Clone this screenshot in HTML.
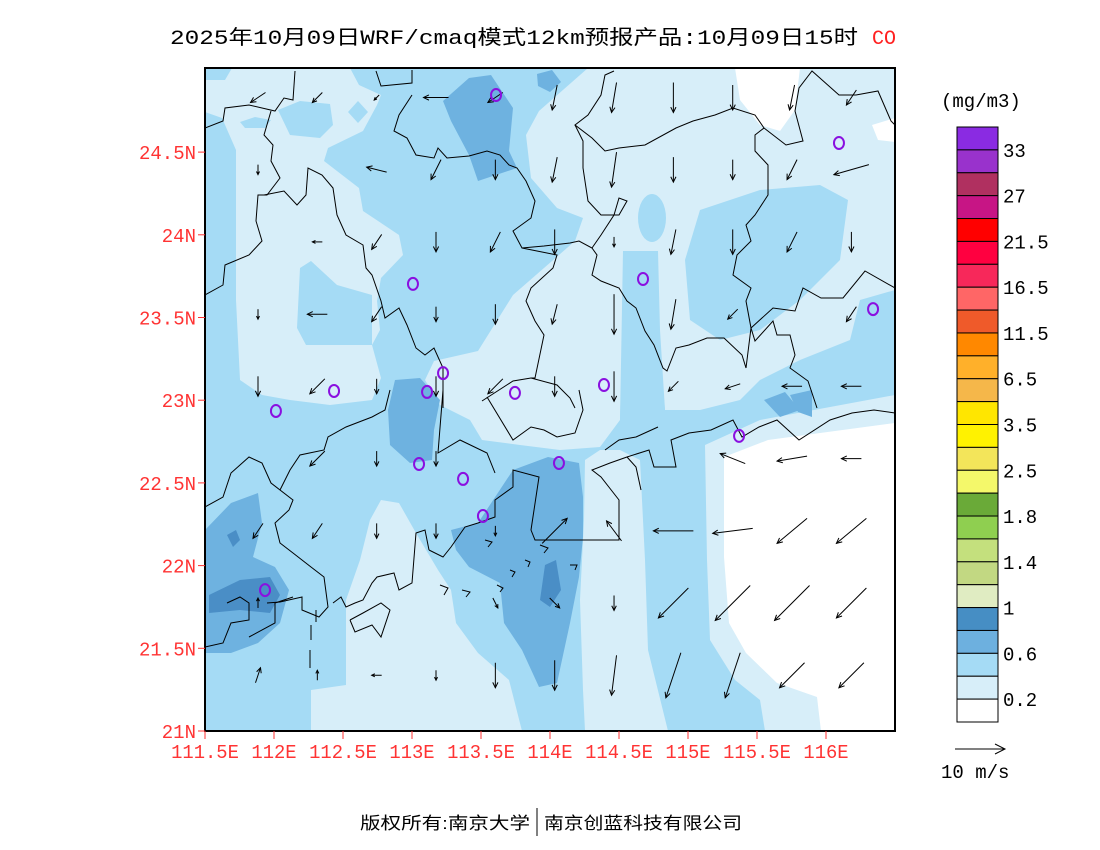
<!DOCTYPE html>
<html><head><meta charset="utf-8"><style>
html,body{margin:0;padding:0;background:#fff;}
svg{display:block;}
.mono{font-family:"Liberation Mono","Noto Sans CJK SC",monospace;}
</style></head><body>
<svg id="chart" width="1100" height="850" viewBox="0 0 1100 850" xmlns="http://www.w3.org/2000/svg">
<rect x="0" y="0" width="1100" height="850" fill="#fff"/>
<text x="170" y="44" font-size="20" textLength="688" lengthAdjust="spacingAndGlyphs" font-family="Liberation Mono, Noto Sans CJK SC, monospace" fill="#000">2025年10月09日WRF/cmaq模式12km预报产品:10月09日15时</text>
<text x="872" y="44" font-size="20" font-family="Liberation Mono, monospace" fill="#ff2020">CO</text>

<defs><clipPath id="mapclip"><rect x="205" y="68" width="690" height="663"/></clipPath></defs>
<g id="map" clip-path="url(#mapclip)">
  <rect x="205" y="68" width="690" height="663" fill="#a5dbf5"/>
  <g fill="#d7eef9">
    <polygon points="232,68 350,68 359,85 381,95 377,105 363,131 328,148 324,161 359,188 363,211 399,235 403,255 381,278 377,301 380,330 372,345 381,378 372,400 330,405 290,400 262,395 240,380 236,300 236,150 222,118 205,112 205,80 225,80"/>
    <polygon points="588,68 895,68 895,290 860,300 850,340 800,360 760,380 740,400 700,410 665,410 658,330 623,320 620,420 600,447 560,450 520,445 482,440 470,420 440,405 425,380 434,361 478,351 513,295 544,268 575,241 583,218 557,208 531,178 526,135 539,111"/>
    <polygon points="381,500 399,503 416,533 438,570 451,590 456,623 478,653 509,680 522,731 311,731 311,690 346,685 346,600 360,560 370,520"/>
    <polygon points="585,460 600,450 620,450 640,460 645,560 648,650 668,731 585,731 583,690 580,600 584,520"/>
    <polygon points="705,445 760,420 895,395 895,731 765,731 760,700 735,680 710,640 707,560"/>
  </g>
  <g fill="#a5dbf5">
    <polygon points="278,110 300,101 330,104 333,125 320,138 290,135"/>
    <polygon points="348,112 358,101 368,112 358,123"/>
    <polygon points="240,122 255,117 271,120 265,128 245,128"/>
    <polygon points="311,261 337,285 372,295 372,345 337,345 306,345 297,328 300,268"/>
    <ellipse cx="652" cy="218" rx="14" ry="24"/>
    <polygon points="700,210 760,190 820,185 848,200 840,260 800,300 760,330 720,340 690,320 685,260"/>
    <polygon points="623,251 658,251 660,330 665,410 640,420 620,420"/>
  </g>
  <g fill="#6eb2e0">
    <polygon points="443,101 469,78 491,75 513,108 509,151 517,168 478,181 469,155 451,121"/>
    <polygon points="537,74 552,70 561,82 550,92 538,86"/>
    <polygon points="395,380 420,378 440,400 434,430 432,460 410,463 390,445 388,410"/>
    <polygon points="451,530 478,523 513,470 548,457 579,463 583,497 583,537 579,577 570,623 557,683 539,687 522,650 504,623 500,583 469,567 456,550"/>
    <polygon points="205,530 231,503 258,493 262,523 253,557 275,567 289,590 280,623 258,643 231,653 205,653"/>
    <polygon points="764,400 785,392 800,410 780,417"/>
    <polygon points="790,395 812,390 812,417 798,412"/>
  </g>
  <g fill="#4a8ec6">
    <polygon points="209,595 240,580 270,577 280,595 270,613 240,610 209,613"/>
    <polygon points="227,535 236,530 240,540 233,547"/>
    <polygon points="545,565 556,560 561,590 550,607 540,600"/>
  </g>
  <g fill="#fff">
    <polygon points="724,457 768,440 895,423 895,731 821,731 817,697 777,683 746,653 729,623 724,557"/>
    <polygon points="735,68 800,68 795,110 780,131 760,125 740,100"/>
    <polygon points="872,125 895,118 895,142 878,140"/>
  </g>
  <g fill="none" stroke="#000" stroke-width="1">
    <polyline points="205,128 223,121 225,108 249,105 275,111 284,98 293,100 295,71"/>
    <polyline points="271,111 264,135 273,145 271,161 280,178 267,195 258,195 256,221 262,241 249,255 225,265 223,285 205,295"/>
    <polyline points="264,195 284,191 297,205 306,195 308,168 322,175 333,188 337,215 346,235 363,245 366,268 372,275 381,301 385,318 399,308 407,325 416,348 425,355 434,348 443,368 443,408"/>
    <polyline points="376,71 381,86 412,83 412,70"/>
    <polyline points="412,95 399,115 394,131 407,138 416,155 434,158 438,148 447,158 469,156 487,151 500,155 509,165 517,168 526,181 535,201 531,218 513,231 522,248 544,246 570,243 579,241 592,248 597,255 592,275 601,281 619,288 627,301 636,308 645,331 654,345 663,368 667,371 676,348 689,345 707,338 724,338 742,355 746,368 751,328 773,308 795,311 803,288 821,298 843,298 865,271 895,288"/>
    <polyline points="614,71 605,75 601,95 588,115 575,125 592,138 605,151 619,148 645,145 676,128 693,121 715,115 733,108 755,115 764,128 755,135 755,151 768,165 768,195 755,215 746,225 751,241 737,255 733,275 751,288 746,301 751,328"/>
    <polyline points="764,128 786,145 803,141 795,111 799,88 812,71 839,95 856,95 878,91 891,121 895,125"/>
    <polyline points="575,125 583,141 583,168 588,201 601,215 619,215 627,201 619,198 614,215 601,235 592,248"/>
    <polyline points="522,248 557,255 553,268 531,288 526,301 535,321 544,335 535,378 531,378 513,381 482,401"/>
    <polyline points="531,378 557,385 570,398 575,408"/>
    <polyline points="751,328 755,341 773,321 777,335 790,335 795,355 790,368 808,381 817,408"/>
    <polyline points="205,507 223,497 231,473 249,457 262,463 271,483 293,500 289,510 275,523 280,543 293,553 311,567 324,577 328,607 319,617 302,610 302,597 280,602 267,603"/>
    <polyline points="333,603 341,597 346,607 355,603 363,600 372,583 377,577 394,573 399,590 412,583 416,533 425,530 429,550"/>
    <polyline points="429,550 443,557 451,547 465,527 478,523 495,517 495,500 513,487 513,470 539,477 531,530 535,540 619,540 619,500 601,477 592,470 610,463 627,457 636,467 641,490"/>
    <polyline points="627,457 649,450 654,467 676,467 671,440 689,433 711,430 733,420 742,437 759,427 777,420 799,440 830,420 852,413 874,410 895,413"/>
    <polyline points="390,390 385,410 372,417 346,427 328,437 324,450 300,455 290,470 280,490"/>
    <polyline points="443,390 438,453 460,440 487,453 495,473"/>
    <polyline points="487,397 513,440 531,427 544,430 557,437 575,433 583,410 579,390"/>
    <polyline points="605,450 619,440 636,437 658,427"/>
    <polyline points="205,647 223,643 231,623 249,620 249,603 240,597 227,603"/>
    <polyline points="249,637 275,623 275,603 293,597"/>
    <polyline points="350,620 363,613 381,603 390,610 381,637 372,625 355,632 350,620"/>
    <polyline points="311,625 311,640"/><polyline points="310,650 310,668"/><polyline points="316,610 316,622"/>
    <polyline points="497,585 503,588 500,592"/><polyline points="510,570 515,572 512,577"/><polyline points="525,560 530,562 528,567"/>
    <polyline points="540,545 548,548 544,553"/><polyline points="570,565 577,565 575,570"/><polyline points="485,540 492,542 488,547"/>
    <polyline points="440,585 448,588 444,595"/><polyline points="462,590 470,592 466,597"/>
  </g>
  <g id="winds"></g>
  <g id="stations"></g>
</g>
<rect x="205" y="68" width="690" height="663" fill="none" stroke="#000" stroke-width="2"/>
<g id="axes"></g>
<g id="colorbar"></g>
<text x="941" y="107" font-size="19" class="mono" fill="#000">(mg/m3)</text>
<g>
  <line x1="955" y1="749" x2="1005" y2="749" stroke="#000" stroke-width="1"/>
  <polyline points="995,744 1005,749 995,754" fill="none" stroke="#000" stroke-width="1"/>
  <text x="941" y="778" font-size="19" class="mono" fill="#000">10 m/s</text>
</g>
<text x="360" y="829" font-size="17" textLength="170" lengthAdjust="spacingAndGlyphs" font-family="Liberation Sans, Noto Sans CJK SC, sans-serif" fill="#000">版权所有:南京大学</text>
<line x1="537" y1="808" x2="537" y2="836" stroke="#000" stroke-width="1"/>
<text x="544" y="829" font-size="17" textLength="198" lengthAdjust="spacingAndGlyphs" font-family="Liberation Sans, Noto Sans CJK SC, sans-serif" fill="#000">南京创蓝科技有限公司</text>
</svg>
<script>
// ---- data ----
const latTicks = [21, 21.5, 22, 22.5, 23, 23.5, 24, 24.5];
const latTickLabels = ["21N","21.5N","22N","22.5N","23N","23.5N","24N","24.5N"];
const lonTicks = [111.5, 112, 112.5, 113, 113.5, 114, 114.5, 115, 115.5, 116];
const lonTickLabels = ["111.5E","112E","112.5E","113E","113.5E","114E","114.5E","115E","115.5E","116E"];
const levelColors = ["#8a2be2","#9932cc","#b03060","#c71585","#ff0000","#ff0040","#f7285a","#ff6666","#ef5a2a","#ff8800","#ffb02a","#f5b74a","#ffe600","#fff200","#f3e55a","#f4f86a","#6aaa38","#8fcf50","#c4e07d","#c2d882","#e0ecc2","#468ec4","#6db0df","#a5dbf5","#d7eef9","#ffffff"];
const levelLabels = ["33","27","21.5","16.5","11.5","6.5","3.5","2.5","1.8","1.4","1","0.6","0.2"];
const stationLon = [113.609,116.094,113.007,114.674,116.341,112.435,113.225,113.109,113.746,114.391,112.014,115.370,113.051,113.370,114.065,113.514,111.935];
const stationLat = [24.845,24.555,23.703,23.733,23.551,23.056,23.164,23.050,23.044,23.092,22.935,22.784,22.614,22.524,22.620,22.300,21.852];
const windLons = [111.884,112.314,112.744,113.174,113.604,114.034,114.464,114.894,115.324,115.754,116.184];
const windLats = [24.83,24.394,23.957,23.52,23.084,22.647,22.21,21.774,21.337];
const windU = [
 [-3,-2,-1,-5,-3,-1,-1,0,0,-1,-2],
 [0,0,-4,-2,0,-1,-1,0,0,-2,-7],
 [0,-2,-2,0,-2,0,0,-1,0,-2,0],
 [0,-4,-2,0,0,-1,0,-1,-2,0,-2],
 [0,-3,0,0,-3,0,0,-2,-3,-4,-4],
 [0,-3,0,0,0,0,0,0,-5,-6,-4],
 [-2,-2,0,0,0,5,-3,-8,-8,-6,-6],
 [0,0,0,0,1,2,0,-6,-7,-7,-6],
 [1,0,-2,0,0,0,-1,-3,-3,-5,-5]];
const windV = [
 [-2,-2,-1,0,-2,-5,-6,-6,-5,-5,-3],
 [-2,0,1,-4,-4,-5,-7,-5,-4,-4,-2],
 [0,0,-3,-4,-4,-5,-2,-5,-5,-4,-4],
 [-2,0,-3,-3,-4,-4,-8,-6,-2,0,-3],
 [-4,-3,-3,-4,-3,-4,-6,-2,-1,0,0],
 [0,-3,-3,-3,0,0,0,0,2,-1,0],
 [-3,-3,-3,-3,-2,5,4,0,-1,-5,-5],
 [2,0,0,0,-2,-2,-3,-6,-7,-7,-6],
 [3,2,0,-2,-5,-6,-8,-9,-9,-5,-5]];

// ---- scales ----
const NS = "http://www.w3.org/2000/svg";
function xScale(lon){ return 205 + (lon - 111.5) * 138; }
function yScale(lat){ return 731 - (lat - 21) * 165.4; }
const windPx = 5; // px per m/s (10 m/s = 50 px)
function mk(tag, attrs, parent){ const e = document.createElementNS(NS, tag); for (const k in attrs) e.setAttribute(k, attrs[k]); parent.appendChild(e); return e; }

// axes
const axes = document.getElementById('axes');
latTicks.forEach((lat, i) => {
  const y = yScale(lat);
  const t = mk('line', {x1:198, y1:y, x2:205, y2:y, stroke:'#ff3333', 'stroke-width':1}, axes);
  
  
  const l = mk('text', {x:196, y:y+7, 'font-size':19, 'text-anchor':'end', fill:'#ff3333', 'font-family':'Liberation Mono, monospace'}, axes);
  
  
  l.textContent = latTickLabels[i];
});
lonTicks.forEach((lon, i) => {
  const x = xScale(lon);
  const t = mk('line', {x1:x, y1:731, x2:x, y2:739, stroke:'#ff3333', 'stroke-width':1}, axes);
  
  
  const l = mk('text', {x:x, y:758, 'font-size':19, 'text-anchor':'middle', fill:'#ff3333', 'font-family':'Liberation Mono, monospace', textLength: (lonTickLabels[i].length*11.3), lengthAdjust:'spacingAndGlyphs'}, axes);
  
  
  l.textContent = lonTickLabels[i];
});

// colorbar
const cb = document.getElementById('colorbar');
const cbTop = 127, cbBot = 722, cbX = 957, cbW = 41;
const boxH = (cbBot - cbTop) / levelColors.length;
levelColors.forEach((c, i) => {
  const r = mk('rect', {x:cbX, y:cbTop + i*boxH, width:cbW, height:boxH, fill:c, stroke:'#000', 'stroke-width':1}, cb);
  
  
});
levelLabels.forEach((lab, i) => {
  const y = cbTop + (2*i + 1) * boxH;
  const t = mk('text', {x:1003, y:y+7, 'font-size':19, fill:'#000', 'font-family':'Liberation Mono, monospace'}, cb);
  
  
  t.textContent = lab;
});

// winds
const wg = document.getElementById('winds');
windLats.forEach((lat, r) => {
  windLons.forEach((lon, c) => {
    const u = windU[r][c], v = windV[r][c];
    if (u === 0 && v === 0) return;
    const cx = xScale(lon), cy = yScale(lat);
    const dx = u * windPx, dy = -v * windPx;
    const x1 = cx - dx/2, y1 = cy - dy/2, x2 = cx + dx/2, y2 = cy + dy/2;
    const g = mk('g', {}, wg);
    
    
    mk('line', {x1:x1, y1:y1, x2:x2, y2:y2, stroke:'#000', 'stroke-width':1}, g);
    const len = Math.hypot(dx, dy), ang = Math.atan2(dy, dx), h = Math.min(6, Math.max(3, len*0.35));
    const a1 = ang + Math.PI - 0.45, a2 = ang + Math.PI + 0.45;
    mk('polyline', {points: (x2 + h*Math.cos(a1)) + ',' + (y2 + h*Math.sin(a1)) + ' ' + x2 + ',' + y2 + ' ' + (x2 + h*Math.cos(a2)) + ',' + (y2 + h*Math.sin(a2)), fill:'none', stroke:'#000', 'stroke-width':1}, g);
  });
});

// stations
const sg = document.getElementById('stations');
stationLon.forEach((lon, i) => {
  const e = mk('ellipse', {cx:xScale(lon), cy:yScale(stationLat[i]), rx:5, ry:6, fill:'none', stroke:'#8a10e0', 'stroke-width':2}, sg);
  
  
});
</script>
</body></html>
